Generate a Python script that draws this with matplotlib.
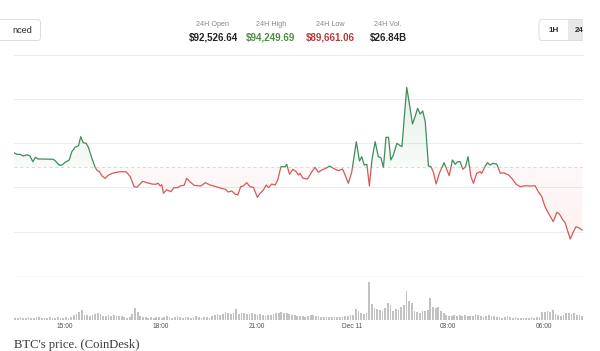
import numpy as np
import matplotlib.pyplot as plt
from matplotlib.patches import Rectangle, FancyBboxPatch
from matplotlib.path import Path

# ---------------- data ----------------
stat_labels = ['24H Open', '24H High', '24H Low', '24H Vol.']
stat_values = ['$92,526.64', '$94,249.69', '$89,661.06', '$26.84B']
stat_colors = ['#222222', '#4f8a45', '#b53a3a', '#222222']

# price line: hours since Dec 10 00:00, price in USD
hours = [13.40, 13.49, 13.59, 13.69, 13.80, 13.90, 13.99, 14.07, 14.16, 14.32,
         14.63, 14.69, 14.82, 14.90, 15.00, 15.13, 15.21, 15.31, 15.42, 15.49,
         15.57, 15.66, 15.73, 15.84, 15.94, 16.01, 16.07, 16.15, 16.25, 16.36,
         16.51, 16.72, 16.91, 17.04, 17.16, 17.25, 17.43, 17.56, 17.72, 17.82,
         17.92, 17.98, 18.03, 18.08, 18.18, 18.31, 18.41, 18.52, 18.62, 18.73,
         18.81, 18.92, 19.04, 19.25, 19.39, 19.54, 19.73, 19.86, 20.02, 20.11,
         20.22, 20.32, 20.41, 20.50, 20.58, 20.69, 20.79, 20.90, 21.02, 21.11,
         21.21, 21.30, 21.37, 21.47, 21.58, 21.66, 21.76, 21.89, 21.94, 22.03,
         22.13, 22.24, 22.31, 22.36, 22.45, 22.59, 22.73, 22.83, 22.93, 23.04,
         23.20, 23.28, 23.40, 23.56, 23.69, 23.77, 23.87, 23.98, 24.12, 24.22,
         24.29, 24.37, 24.45, 24.53, 24.61, 24.71, 24.81, 24.89, 24.97, 25.05,
         25.13, 25.20, 25.28, 25.39, 25.55, 25.62, 25.70, 25.78, 25.88, 25.96,
         26.04, 26.12, 26.20, 26.28, 26.38, 26.46, 26.54, 26.62, 26.72, 26.87,
         27.03, 27.13, 27.22, 27.29, 27.37, 27.46, 27.54, 27.62, 27.71, 27.79,
         27.89, 28.00, 28.05, 28.16, 28.23, 28.31, 28.40, 28.52, 28.63, 28.73,
         28.89, 28.99, 29.13, 29.25, 29.41, 29.56, 29.72, 29.82, 29.93, 30.03,
         30.17, 30.29, 30.40, 30.48, 30.59, 30.66, 30.73, 30.82, 30.92, 31.00,
         31.08, 31.19]
prices = [92779, 92743, 92743, 92705, 92734, 92705, 92577, 92676, 92637, 92637,
          92631, 92599, 92495, 92502, 92563, 92615, 92802, 92901, 92937, 93140,
          93004, 92991, 92901, 92653, 92450, 92374, 92360, 92261, 92203, 92277,
          92322, 92351, 92351, 92239, 92014, 92000, 92135, 92104, 92074, 92068,
          92090, 92029, 92059, 91865, 91946, 91901, 91991, 91991, 92036, 92045,
          92203, 92119, 92045, 92029, 92104, 92052, 92014, 91984, 91955, 91894,
          91917, 91849, 91827, 92014, 92029, 92104, 92014, 92000, 91775, 91865,
          91939, 92052, 91991, 92074, 92052, 92164, 92464, 92464, 92518, 92293,
          92405, 92351, 92277, 92315, 92203, 92187, 92351, 92450, 92338, 92390,
          92441, 92480, 92428, 92374, 92412, 92277, 92090, 92351, 93027, 92592,
          92689, 92502, 92518, 92029, 92615, 93027, 92689, 92667, 92450, 93126,
          93126, 92615, 92727, 92991, 92914, 93554, 94250, 93892, 93426, 93590,
          93779, 93651, 93718, 93477, 92480, 92464, 92329, 92074, 92315, 92554,
          92261, 92615, 92518, 92577, 92577, 92405, 92464, 92689, 92239, 92090,
          92315, 92351, 92315, 92480, 92554, 92502, 92540, 92525, 92315, 92329,
          92277, 92203, 92068, 92014, 92036, 92029, 92036, 91901, 91788, 91563,
          91376, 91225, 91437, 91399, 91264, 91203, 91038, 90836, 91000, 91113,
          91090, 91038]
ref_price = 92450            # dashed reference level (open)
grid_prices = [91000, 92000, 93000, 94000]

# 5-minute volume bars (relative height), one row per hour from 13:25
volumes = [2, 2, 3, 2, 2, 3, 2, 2, 3, 3, 2, 2,
           2, 3, 2, 2, 3, 2, 2, 3, 2, 3, 5, 6,
           8, 10, 5, 5, 4, 5, 6, 7, 6, 4, 4, 5,
           4, 5, 4, 4, 4, 3, 2, 3, 6, 12, 8, 4,
           3, 3, 2, 3, 2, 3, 3, 2, 3, 4, 3, 2,
           3, 4, 3, 2, 3, 3, 2, 3, 4, 3, 2, 3,
           3, 2, 4, 5, 6, 5, 6, 8, 7, 6, 7, 11,
           6, 7, 7, 6, 6, 7, 6, 5, 6, 5, 4, 5,
           5, 6, 7, 7, 8, 7, 7, 6, 5, 5, 4, 4,
           4, 3, 4, 5, 5, 4, 4, 3, 3, 3, 3, 3,
           3, 3, 3, 3, 4, 4, 5, 5, 11, 9, 7, 6,
           7, 38, 16, 12, 11, 10, 9, 12, 17, 15, 9, 11,
           10, 13, 15, 29, 19, 17, 9, 8, 7, 9, 9, 10,
           22, 13, 12, 13, 9, 7, 5, 4, 4, 5, 4, 5,
           4, 5, 4, 4, 4, 6, 5, 4, 3, 4, 5, 4,
           4, 3, 3, 2, 3, 4, 3, 2, 3, 2, 2, 2,
           2, 2, 3, 2, 3, 3, 8, 8, 9, 8, 10, 6,
           5, 4, 5, 7, 7, 6, 7, 5, 5, 4]
vol_hours = 13.44 + np.arange(len(volumes)) / 12

tick_hours = [15, 18, 21, 24, 27, 30]
tick_labels = ['15:00', '18:00', '21:00', 'Dec 11', '03:00', '06:00']

green = '#3f8c5c'
red = '#d45a5a'

# ---------------- figure ----------------
W, H = 600, 351
fig = plt.figure(figsize=(6.0, 3.51), dpi=100)


def box(x0, y0, x1, y1):
    return [x0 / W, 1 - y1 / H, (x1 - x0) / W, (y1 - y0) / H]


# pixel overlay for header, buttons and caption
deco = fig.add_axes([0, 0, 1, 1])
deco.set_xlim(0, W)
deco.set_ylim(H, 0)
deco.axis('off')
clip = Rectangle((0, 0), 583, H, transform=deco.transData)

deco.plot([14, 583], [55, 55], color='#ececec', lw=0.8)

btn = FancyBboxPatch((-8, 19.5), 48.5, 21, boxstyle='round,pad=0,rounding_size=3',
                     fc='white', ec='#dddddd', lw=0.7)
deco.add_patch(btn)
deco.text(12.5, 30.5, 'nced', fontsize=6.6, color='#2a2a2a', va='center', ha='left',
          family='Liberation Sans')

grp = FancyBboxPatch((539, 19.5), 70, 21, boxstyle='round,pad=0,rounding_size=3',
                     fc='white', ec='#dddddd', lw=0.7)
deco.add_patch(grp)
grp.set_clip_path(clip)
seg = Rectangle((568, 20), 40, 20, fc='#e8e8e8', ec='none')
deco.add_patch(seg)
seg.set_clip_path(clip)
deco.text(553.5, 30.5, '1H', fontsize=5.8, weight='bold', color='#2a2a2a',
          ha='center', va='center', family='Liberation Sans')
t24 = deco.text(575, 30.5, '24H', fontsize=5.8, weight='bold', color='#2a2a2a',
                ha='left', va='center', family='Liberation Sans')
t24.set_clip_on(True)
t24.set_clip_path(clip)

for cx, lab, val, col in zip([213, 271, 330, 388], stat_labels, stat_values, stat_colors):
    deco.text(cx, 24, lab, fontsize=5.2, color='#888888', ha='center', va='center',
              family='Liberation Sans')
    deco.text(cx, 37.5, val, fontsize=7.0, weight='bold', color=col, ha='center',
              va='center', family='Liberation Sans')

deco.text(14, 345, "BTC's price. (CoinDesk)", fontsize=9.1, color='#3c3c3c',
          ha='left', va='center', family='Liberation Serif')

# ---------------- price panel ----------------
ax = fig.add_axes(box(14, 60, 583, 270))
ax.set_facecolor('none')
x0, x1 = 13.40, 31.22
y0, y1 = 90138, 94867

for gp in grid_prices:
    ax.axhline(gp, color='#ededed', lw=0.8, zorder=1)
ax.axhline(ref_price, color='#dadada', lw=0.7, ls=(0, (3, 3)), zorder=1)

# gradient fills, clipped to the area between line and reference
area = Path([(hours[0], ref_price)] + list(zip(hours, prices)) + [(hours[-1], ref_price)])
n = 64
g = np.zeros((n, 2, 4))
g[..., :3] = [0.25, 0.6, 0.38]
g[..., 3] = np.linspace(0.15, 0.04, n)[:, None]
im_g = ax.imshow(g, extent=[hours[0], hours[-1], ref_price, 94300], origin='upper',
                 aspect='auto', interpolation='bilinear', zorder=2)
im_g.set_clip_path(area, transform=ax.transData)
r = np.zeros((n, 2, 4))
r[..., :3] = [0.93, 0.45, 0.45]
r[..., 3] = np.linspace(0.10, 0.05, n)[:, None]
im_r = ax.imshow(r, extent=[hours[0], hours[-1], 90800, ref_price], origin='lower',
                 aspect='auto', interpolation='bilinear', zorder=2)
im_r.set_clip_path(area, transform=ax.transData)

# line coloured above / below the reference
up, = ax.plot(hours, prices, color=green, lw=0.9, zorder=3)
up.set_clip_path(Rectangle((x0, ref_price), x1 - x0, 5000, transform=ax.transData))
dn, = ax.plot(hours, prices, color=red, lw=0.9, zorder=3)
dn.set_clip_path(Rectangle((x0, ref_price - 5000), x1 - x0, 5000, transform=ax.transData))

ax.set_xlim(x0, x1)
ax.set_ylim(y0, y1)
ax.axis('off')

# ---------------- volume panel ----------------
vax = fig.add_axes(box(14, 276, 583, 320))
vax.set_facecolor('none')
vax.bar(vol_hours, volumes, width=0.055, color='#c2c2c2', lw=0)
vax.axhline(44, color='#ececec', lw=0.6, ls=(0, (1.2, 1.8)), clip_on=False)
vax.set_xlim(x0, x1)
vax.set_ylim(0, 44)
vax.set_yticks([])
vax.set_xticks(tick_hours, tick_labels)
vax.tick_params(axis='x', length=0, pad=1.8, labelsize=4.8, labelcolor='#555555')
for lbl in vax.get_xticklabels():
    lbl.set_family('Liberation Sans')
for s in vax.spines.values():
    s.set_visible(False)

fig.savefig('out.png', dpi=100, facecolor='white')
